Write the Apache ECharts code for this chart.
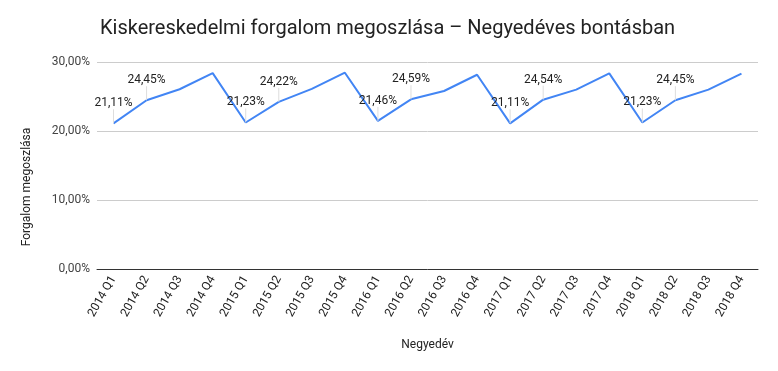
<!DOCTYPE html>
<html><head><meta charset="utf-8">
<script src="https://cdn.jsdelivr.net/npm/echarts@6/dist/echarts.min.js"></script>
<style>html,body{margin:0;padding:0;background:#fff}#c{width:778px;height:371px}</style>
</head><body><div id="c"></div>
<script>
const categories = ['2014 Q1','2014 Q2','2014 Q3','2014 Q4','2015 Q1','2015 Q2','2015 Q3','2015 Q4','2016 Q1','2016 Q2','2016 Q3','2016 Q4','2017 Q1','2017 Q2','2017 Q3','2017 Q4','2018 Q1','2018 Q2','2018 Q3','2018 Q4'];
const shares = [21.11,24.45,26.05,28.39, 21.23,24.22,26.10,28.45, 21.46,24.59,25.80,28.15, 21.11,24.54,26.00,28.35, 21.23,24.45,26.00,28.32];
const labeledQuarters = [0,1];
const yTicks = {min:0, max:30, interval:10};
const titleText = 'Kiskereskedelmi forgalom megoszlása – Negyedéves bontásban';
const yName = 'Forgalom megoszlása';
const xName = 'Negyedév';

const fmt = v => Number(v).toFixed(2).replace('.', ',') + '%';
const chart = echarts.init(document.getElementById('c'));
chart.setOption({
  animation:false,
  textStyle:{fontFamily:'Roboto'},
  title:{text:titleText,left:100,top:19,padding:0,textStyle:{fontFamily:'Roboto',fontSize:20,fontWeight:'normal',color:'#222'}},
  grid:{left:97,right:20,top:62,bottom:102},
  graphic:[{type:'text',x:27,y:187,rotation:Math.PI/2,style:{text:yName,fontFamily:'Roboto',fontSize:12,fill:'#222',align:'center',verticalAlign:'middle'}}],
  xAxis:{type:'category',data:categories,boundaryGap:true,
    name:xName,nameLocation:'middle',nameGap:70,nameTextStyle:{fontFamily:'Roboto',fontSize:12,color:'#222'},
    axisLine:{lineStyle:{color:'#333',width:1}},axisTick:{show:false},
    axisLabel:{rotate:60,interval:0,margin:8,fontFamily:'Roboto',fontSize:12,color:'#222'}},
  yAxis:{type:'value',min:yTicks.min,max:yTicks.max,interval:yTicks.interval,
    axisLine:{show:false},axisTick:{show:false},
    splitLine:{lineStyle:{color:'#cccccc',width:1}},
    axisLabel:{formatter:fmt,margin:7,fontFamily:'Roboto',fontSize:12,color:'#444'}},
  series:[{type:'line',data:shares.map((v,i)=>({value:v,label:{show:labeledQuarters.includes(i%4)},labelLine:{show:labeledQuarters.includes(i%4)}})),
    showSymbol:true,symbol:'circle',symbolSize:0.1,
    lineStyle:{color:'#4285F4',width:2},itemStyle:{color:'#4285F4'},
    label:{position:'top',distance:3,formatter:p=>fmt(p.value),fontFamily:'Roboto',fontSize:12,color:'#222'},
    labelLayout:{dy:-11},
    labelLine:{lineStyle:{color:'#dddddd',width:1}}
  }]
});
</script></body></html>
